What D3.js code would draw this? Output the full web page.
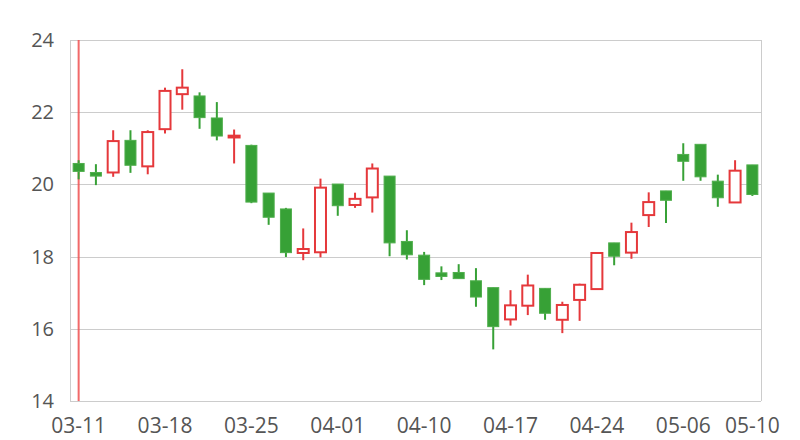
<!DOCTYPE html>
<html><head><meta charset="utf-8">
<script src="https://cdn.jsdelivr.net/npm/d3@7/dist/d3.min.js"></script>
<style>body{margin:0;background:#fff}svg{display:block}</style>
</head><body><svg id="c" width="800" height="440"></svg>
<script>
const dates = ["03-11","03-12","03-13","03-14","03-15","03-18","03-19","03-20","03-21","03-22",
"03-25","03-26","03-27","03-28","03-29","04-01","04-02","04-03","04-08","04-09",
"04-10","04-11","04-12","04-15","04-16","04-17","04-18","04-19","04-22","04-23",
"04-24","04-25","04-26","05-02","05-03","05-06","05-07","05-08","05-09","05-10"];
const openVals  = [20.58,20.33,20.33,21.22,20.50,21.53,22.50,22.45,21.84,21.30,
21.08,19.76,19.32,18.10,18.12,20.01,19.43,19.64,20.23,18.42,
18.04,17.55,17.56,17.33,17.14,16.26,16.64,17.12,16.25,16.80,
17.10,18.38,18.11,19.15,19.82,20.83,21.11,20.09,19.50,20.54];
const closeVals = [20.36,20.23,21.20,20.53,21.45,22.59,22.68,21.85,21.34,21.35,
19.51,19.09,18.11,18.21,19.91,19.41,19.60,20.44,18.38,18.05,
17.37,17.45,17.39,16.88,16.06,16.65,17.20,16.43,16.66,17.22,
18.10,18.01,18.68,19.51,19.56,20.64,20.21,19.63,20.38,19.72];
const highVals  = [20.67,20.56,21.50,21.50,21.50,22.68,23.19,22.55,22.28,21.52,
21.10,19.76,19.35,18.78,20.16,20.01,19.77,20.58,20.23,18.73,
18.13,17.73,17.79,17.68,17.14,17.07,17.50,17.12,16.75,17.25,
18.10,18.38,18.94,19.78,19.82,21.14,21.11,20.27,20.67,20.54];
const lowVals   = [20.14,19.98,20.21,20.32,20.28,21.41,22.07,21.54,21.22,20.58,
19.48,18.88,17.99,17.90,17.98,19.13,19.35,19.22,18.01,17.92,
17.21,17.35,17.39,16.61,15.43,16.09,16.38,16.25,15.88,16.22,
17.10,17.76,17.94,18.82,18.93,20.10,20.10,19.38,19.50,19.68];
const xTickLabels = ["03-11","03-18","03-25","04-01","04-10","04-17","04-24","05-06","05-10"];
const yTicks = [14,16,18,20,22,24];
const markDate = "03-11";

const upColor = "#e5383b", downColor = "#37a136";
const svg = d3.select("#c");
const mL = 70, mR = 761, mT = 40, mB = 401;
const x = d3.scaleBand().domain(dates).range([mL, mR]).padding(0);
const y = d3.scaleLinear().domain([14, 24]).range([mB, mT]);

// grid
svg.append("g").selectAll("line").data(yTicks).join("line")
  .attr("x1", mL).attr("x2", mR)
  .attr("y1", d => Math.round(y(d)) + 0.5).attr("y2", d => Math.round(y(d)) + 0.5)
  .attr("stroke", "#ccc").attr("stroke-width", 1);
svg.append("line").attr("x1", mL + 0.5).attr("x2", mL + 0.5).attr("y1", mT).attr("y2", mB)
  .attr("stroke", "#ccc");
svg.append("line").attr("x1", mR + 0.5).attr("x2", mR + 0.5).attr("y1", mT).attr("y2", mB)
  .attr("stroke", "#ccc");

// y axis labels
const yAxis = d3.axisLeft(y).tickValues(yTicks).tickSize(0).tickPadding(16).tickFormat(d3.format("d"));
const ga = svg.append("g").attr("transform", `translate(${mL},0)`).call(yAxis);
ga.select(".domain").remove();
ga.selectAll("text").attr("font-family","'Open Sans', sans-serif").attr("font-size", 20).attr("fill","#555");

// x axis labels
const xAxis = d3.axisBottom(x).tickValues(xTickLabels).tickSize(0).tickPadding(17);
const gx = svg.append("g").attr("transform", `translate(0,${mB})`).call(xAxis);
gx.select(".domain").remove();
gx.selectAll("text").attr("font-family","'Open Sans', sans-serif").attr("font-size", 21).attr("fill","#555");

// mark line
const cx = d => x(d) + x.bandwidth() / 2;
svg.append("line").attr("x1", cx(markDate)).attr("x2", cx(markDate))
  .attr("y1", mT).attr("y2", mB)
  .attr("stroke", "#f05050").attr("stroke-width", 2).attr("opacity", 0.85);

const data = dates.map((d, i) => ({d, o: openVals[i], c: closeVals[i], h: highVals[i], l: lowVals[i]}));
const bw = 11;
const g = svg.append("g");
const cs = g.selectAll("g").data(data).join("g");
cs.append("line")
  .attr("x1", d => cx(d.d)).attr("x2", d => cx(d.d))
  .attr("y1", d => y(d.h)).attr("y2", d => y(d.l))
  .attr("stroke", d => d.c >= d.o ? upColor : downColor).attr("stroke-width", 2);
cs.append("rect")
  .attr("x", d => cx(d.d) - bw / 2)
  .attr("y", d => y(Math.max(d.o, d.c)))
  .attr("width", bw)
  .attr("height", d => Math.max(1, Math.abs(y(d.o) - y(d.c))))
  .attr("fill", d => d.c >= d.o ? "#fff" : downColor)
  .attr("stroke", d => d.c >= d.o ? upColor : "#4fae4c")
  .attr("stroke-width", d => d.c >= d.o ? 2 : 1);
</script></body></html>
